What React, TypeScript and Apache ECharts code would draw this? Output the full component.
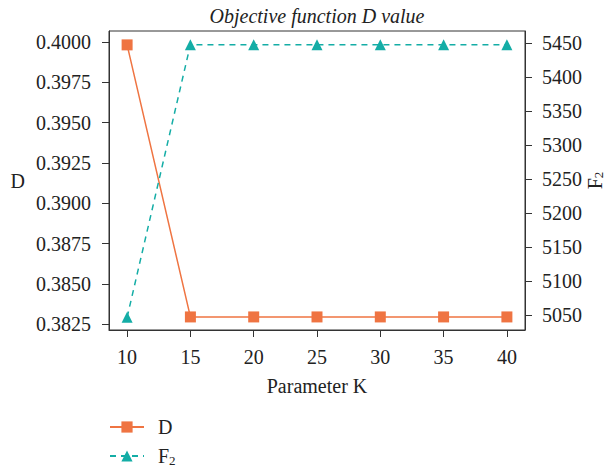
import React, { useEffect, useRef } from "react";
import * as echarts from "echarts";

const kValues = [10, 15, 20, 25, 30, 35, 40];
const dValues = [0.39982, 0.38296, 0.38296, 0.38296, 0.38296, 0.38296, 0.38296];
const f2Values = [5046.5, 5448, 5448, 5448, 5448, 5448, 5448];
const leftTicks = [0.3825, 0.385, 0.3875, 0.39, 0.3925, 0.395, 0.3975, 0.4];
const rightTicks = [5050, 5100, 5150, 5200, 5250, 5300, 5350, 5400, 5450];

const FONT = "Liberation Serif";
const TXT = "#222";
const AX = "#333";
const ORANGE = "#EF7442";
const TEAL = "#14ADA6";

export default function App() {
  const ref = useRef<HTMLDivElement>(null);
  useEffect(() => {
    document.body.style.margin = "0";
    const chart = echarts.init(ref.current!, null, { renderer: "svg" });
    const axisCommon = {
      axisLine: { show: true, lineStyle: { color: AX, width: 1 } },
      splitLine: { show: false },
    };
    const subRich = { sub: { fontFamily: FONT, fontSize: 13, color: TXT, verticalAlign: "bottom", padding: [8, 0, 0, 0] } };
    const legendCommon = {
      orient: "vertical",
      left: 109,
      padding: 0,
      itemWidth: 34,
      itemHeight: 14,
      textStyle: { fontFamily: FONT, fontSize: 20, color: TXT, padding: [0, 0, 0, 9], rich: subRich },
      formatter: (n: string) => (n === "F2" ? "F{sub|2}" : n),
    };
    chart.setOption({
      animation: false,
      title: {
        text: "Objective function D value",
        left: 312,
        textAlign: "center",
        top: 1,
        textStyle: { fontFamily: FONT, fontStyle: "italic", fontWeight: "normal", fontSize: 20, color: TXT },
      },
      grid: { left: 109, right: 91, top: 31, bottom: 142, show: true, borderColor: AX, borderWidth: 1 },
      legend: [
        { ...legendCommon, top: 417, data: ["D"] },
        { ...legendCommon, top: 446, data: ["F2"] },
      ],
      xAxis: {
        type: "value",
        min: 8.57,
        max: 41.43,
        name: "Parameter K",
        nameLocation: "middle",
        nameGap: 46,
        nameTextStyle: { fontFamily: FONT, fontSize: 20, color: TXT },
        ...axisCommon,
        axisTick: { show: true, length: 7, lineStyle: { color: AX }, customValues: kValues },
        axisLabel: { fontFamily: FONT, fontSize: 20, color: TXT, margin: 17, customValues: kValues },
      },
      yAxis: [
        {
          type: "value",
          min: 0.38215,
          max: 0.40068,
          name: "D",
          nameLocation: "middle",
          nameRotate: 0,
          nameGap: 84,
          nameMoveOverlap: false,
          nameTextStyle: { fontFamily: FONT, fontSize: 20, color: TXT },
          ...axisCommon,
          axisTick: { show: true, length: 7, lineStyle: { color: AX }, customValues: leftTicks },
          axisLabel: {
            fontFamily: FONT, fontSize: 20, color: TXT, margin: 18, customValues: leftTicks,
            formatter: (v: number) => v.toFixed(4),
          },
        },
        {
          type: "value",
          position: "right",
          min: 5027.9,
          max: 5468.1,
          name: "F{sub|2}",
          nameLocation: "middle",
          nameRotate: 90,
          nameGap: 59,
          nameMoveOverlap: false,
          nameTextStyle: { fontFamily: FONT, fontSize: 20, color: TXT, rich: subRich },
          ...axisCommon,
          axisTick: { show: true, length: 7, lineStyle: { color: AX }, customValues: rightTicks },
          axisLabel: {
            fontFamily: FONT, fontSize: 20, color: TXT, margin: 17, customValues: rightTicks,
            formatter: (v: number) => String(Math.round(v)),
          },
        },
      ],
      series: [
        {
          name: "D",
          type: "line",
          yAxisIndex: 0,
          data: kValues.map((k, i) => [k, dValues[i]]),
          symbol: "rect",
          symbolSize: 11,
          itemStyle: { color: ORANGE },
          lineStyle: { color: ORANGE, width: 1.5 },
        },
        {
          name: "F2",
          type: "line",
          yAxisIndex: 1,
          data: kValues.map((k, i) => [k, f2Values[i]]),
          symbol: "triangle",
          symbolSize: 11,
          itemStyle: { color: TEAL },
          lineStyle: { color: TEAL, width: 1.5, type: [6, 5] },
        },
      ],
    });
    return () => chart.dispose();
  }, []);
  return <div ref={ref} style={{ width: 616, height: 472 }} />;
}
